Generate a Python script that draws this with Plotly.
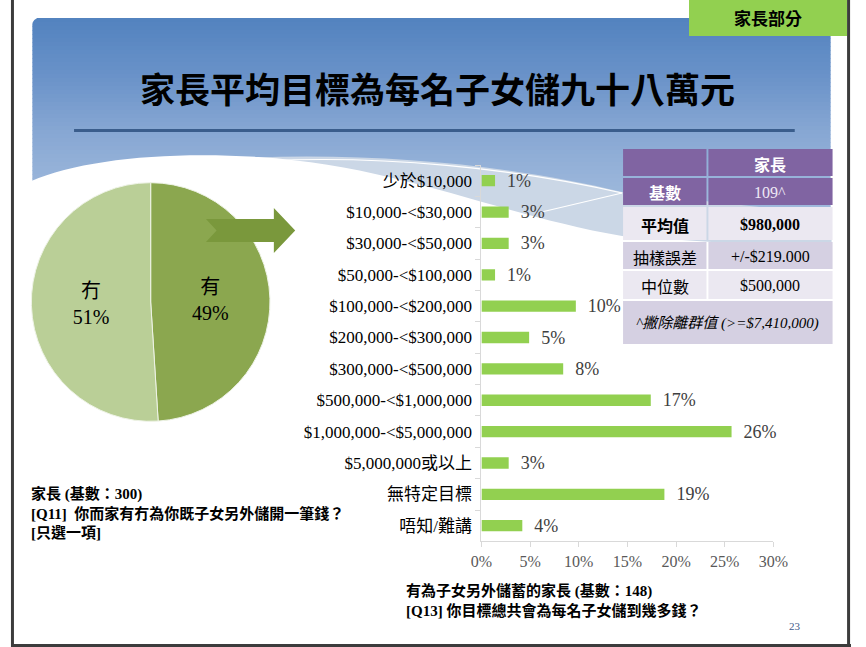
import plotly.graph_objects as go

W, H = 866, 647
SERIF = "Liberation Serif, Noto Sans CJK TC"
CJK = "Noto Sans CJK TC"

# pie: 家長 有冇為子女另外儲錢
pie_labels = ["有", "冇"]
pie_values = [49, 51]
pie_colors = ["#8ba74f", "#bacf97"]

# bars: 目標金額 (%)
categories = [
    "少於$10,000",
    "$10,000-<$30,000",
    "$30,000-<$50,000",
    "$50,000-<$100,000",
    "$100,000-<$200,000",
    "$200,000-<$300,000",
    "$300,000-<$500,000",
    "$500,000-<$1,000,000",
    "$1,000,000-<$5,000,000",
    "$5,000,000或以上",
    "無特定目標",
    "唔知/難講",
]
percents = [1.4, 2.8, 2.8, 1.4, 9.7, 4.9, 8.4, 17.4, 25.7, 2.8, 18.8, 4.2]

# summary table
table_header = ["", "家長"]
table_labels = ["基數", "平均值", "抽樣誤差", "中位數"]
table_values = ["109^", "$980,000", "+/-$219.000", "$500,000"]
table_note = "^撇除離群值 (>=$7,410,000)"


def px(x):
    return x / W


def py(y):
    return 1 - y / H


def path(cmds):
    out = []
    for c in cmds:
        op, nums = c[0], c[1:]
        pts = []
        for i in range(0, len(nums), 2):
            pts.append(f"{px(nums[i]):.5f},{py(nums[i + 1]):.5f}")
        out.append(op + " " + " ".join(pts))
    return " ".join(out) + " Z"


def mix(c1, c2, t):
    return tuple(round(a + (b - a) * t) for a, b in zip(c1, c2))


def rect(x0, y0, x1, y1, color, layer="below"):
    return dict(type="rect", xref="paper", yref="paper", layer=layer,
                x0=px(x0), x1=px(x1), y0=py(y1), y1=py(y0),
                fillcolor=color, line_width=0)


shapes = []
annotations = []

# blue header gradient
stops = [(18, (83, 131, 191)), (70, (104, 145, 200)), (130, (135, 167, 211)),
         (180, (153, 181, 218)), (252, (168, 192, 224))]
y = 18
while y < 252:
    for (y0, c0), (y1, c1) in zip(stops, stops[1:]):
        if y0 <= y < y1:
            col = mix(c0, c1, (y - y0) / (y1 - y0))
    shapes.append(rect(22, y, 845, y + 4.5, "rgb(%d,%d,%d)" % col))
    y += 4
# rounded top-left corner
shapes.append(dict(type="path", xref="paper", yref="paper", layer="below",
                   path=path([("M", 21, 17), ("L", 31, 17), ("Q", 22, 18, 21, 27)]),
                   fillcolor="white", line_width=0))
# light wave band
shapes.append(dict(type="path", xref="paper", yref="paper", layer="below",
                   path=path([("M", 240, 158), ("C", 380, 152, 520, 166, 630, 192),
                              ("L", 846, 215), ("L", 846, 262), ("L", 21, 262)]),
                   fillcolor="#cbd7e6", line_width=0))
# white wave
shapes.append(dict(type="path", xref="paper", yref="paper", layer="below",
                   path=path([("M", 21, 181), ("C", 70, 160, 160, 151, 255, 157),
                              ("C", 400, 166, 500, 214, 630, 236),
                              ("L", 846, 250), ("L", 846, 262), ("L", 21, 262)]),
                   fillcolor="white", line_width=0))
# white decorative lines
shapes.append(dict(type="path", xref="paper", yref="paper", layer="below",
                   path=path([("M", 262, 161), ("C", 380, 155, 520, 168, 630, 193),
                              ("C", 520, 168, 380, 155, 262, 161)]),
                   line=dict(color="white", width=1.2)))
shapes.append(dict(type="line", xref="paper", yref="paper", layer="below",
                   x0=px(547), y0=py(212), x1=px(630), y1=py(193),
                   line=dict(color="white", width=1.2)))
# title underline
shapes.append(dict(type="line", xref="paper", yref="paper", layer="below",
                   x0=px(65), x1=px(808), y0=py(130.5), y1=py(130.5),
                   line=dict(color="#3a5d8c", width=3)))
# green badge
shapes.append(rect(699, 0, 862, 36, "#92d050"))

# table drawn as cells
purple, pale, lav = "#8064a2", "#ebe8f1", "#d5d0e2"
col_edges = [630, 718, 848]
row_edges = [148, 177, 206, 241, 270, 300]
row_fill = [purple, purple, pale, lav, pale]
row_text = ["white", "white", "black", "black", "black"]
table_rows = [table_header] + [[a, b] for a, b in zip(table_labels, table_values)]
for r, row in enumerate(table_rows):
    ya, yb = row_edges[r], row_edges[r + 1]
    for c, txt in enumerate(row):
        xa, xb = col_edges[c], col_edges[c + 1]
        shapes.append(rect(xa + 1, ya + 1, xb - 1, yb - 1, row_fill[r]))
        bold = r in (0, 1, 2) and not (r == 1 and c == 1)
        fam = CJK if c == 0 or r == 0 else SERIF
        color = "#eee8f6" if (r == 1 and c == 1) else row_text[r]
        annotations.append(dict(
            x=px((xa + xb) / 2), y=py((ya + yb) / 2 + 1),
            text=f"<b>{txt}</b>" if bold and txt else txt,
            font=dict(size=16, family=fam, color=color)))
shapes.append(rect(631, 301, 847, 344, lav))
annotations.append(dict(x=px(739), y=py(323), text=f"<i>{table_note}</i>",
                        font=dict(size=15, family=SERIF, color="black")))

# arrow from pie to bars
shapes.append(dict(type="path", xref="paper", yref="paper", layer="above",
                   path=path([("M", 201, 219), ("L", 271, 219), ("L", 271, 208),
                              ("L", 293, 230.5), ("L", 271, 253), ("L", 271, 242),
                              ("L", 201, 242), ("L", 212, 230.5)]),
                   fillcolor="#7a983c", line_width=0))
# slide frame
for x0, y0, x1, y1 in [(1.5, 0, 1.5, 647), (863.5, 0, 863.5, 647), (0, 645.5, 866, 645.5)]:
    shapes.append(dict(type="line", xref="paper", yref="paper", layer="above",
                       x0=px(x0), x1=px(x1), y0=py(y0), y1=py(y1),
                       line=dict(color="#3c3c3c", width=3)))

fig = go.Figure()

fig.add_trace(go.Bar(
    x=percents, y=categories, orientation="h",
    marker=dict(color="#92d050", line_width=0),
    texttemplate="  %{x:.0f}%", textposition="outside", cliponaxis=False,
    constraintext="none",
    textfont=dict(size=18, color="#404040", family=SERIF),
    hoverinfo="skip", showlegend=False,
))

pie_font = dict(size=20, family=SERIF, color="black")
fig.add_trace(go.Pie(
    labels=pie_labels, values=pie_values, sort=False,
    direction="clockwise", rotation=0,
    marker=dict(colors=pie_colors, line=dict(color="#eef3e6", width=1)),
    texttemplate="%{label}<br>%{percent:.0%}", textposition="inside",
    insidetextorientation="horizontal",
    textfont=pie_font, insidetextfont=pie_font,
    domain=dict(x=[px(21), px(267)], y=[py(425), py(179)]),
    hoverinfo="skip", showlegend=False,
))

annotations += [
    dict(x=px(440), y=py(87), text="家長平均目標為每名子女儲九十八萬元",
         font=dict(size=35, family=CJK, color="black", weight="bold")),
    dict(x=px(780), y=py(18), text="家長部分",
         font=dict(size=17, family=CJK, color="black", weight="bold")),
    dict(x=px(19), y=py(513), xanchor="left", align="left",
         text="<b>家長 (基數：300)<br>[Q11]  你而家有冇為你既子女另外儲開一筆錢？<br>[只選一項]</b>",
         font=dict(size=15, family=SERIF, color="black")),
    dict(x=px(405), y=py(600), xanchor="left", align="left",
         text="<b>有為子女另外儲蓄的家長 (基數：148)<br>[Q13] 你目標總共會為每名子女儲到幾多錢？</b>",
         font=dict(size=15, family=SERIF, color="black")),
    dict(x=px(808), y=py(626), text="23",
         font=dict(size=11, family=SERIF, color="#3f5c8a")),
]
for a in annotations:
    a.update(xref="paper", yref="paper", showarrow=False)
    a.setdefault("xanchor", "center")
    a.setdefault("yanchor", "middle")

fig.update_layout(
    width=W, height=H, autosize=False,
    margin=dict(l=0, r=0, t=0, b=0),
    paper_bgcolor="white", plot_bgcolor="rgba(0,0,0,0)",
    shapes=shapes, annotations=annotations,
    bargap=0.64,
    xaxis=dict(domain=[px(485), px(786)], range=[0, 30], dtick=5, ticksuffix="%",
               showgrid=False, zeroline=False, showline=True, linecolor="#d9d9d9",
               ticks="outside", ticklen=5, tickcolor="#d9d9d9",
               tickfont=dict(size=16, color="#595959", family=SERIF), fixedrange=True),
    yaxis=dict(domain=[py(541.4), py(165)], categoryorder="array",
               categoryarray=categories, autorange="reversed",
               showgrid=False, zeroline=False, showline=True, linecolor="#d9d9d9",
               ticks="outside", tickson="boundaries", ticklen=5, tickcolor="#d9d9d9",
               ticklabelstandoff=5,
               tickfont=dict(size=17, color="black", family=SERIF), fixedrange=True),
)

fig.write_html(
    "out.html", config={"displayModeBar": False},
    post_script="document.body.style.margin='0';"
                "document.body.style.overflow='hidden';"
                "document.documentElement.style.overflow='hidden';")
